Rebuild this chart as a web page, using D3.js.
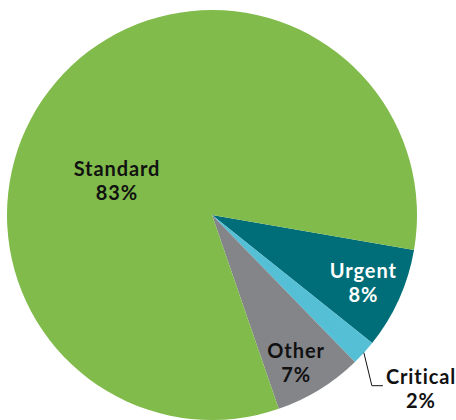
<!DOCTYPE html>
<meta charset="utf-8">
<style>
  body { margin: 0; background: #fff; }
  text { font-family: Lato, "Open Sans", sans-serif; font-weight: 700; letter-spacing: 0.9px; }
</style>
<body>
<svg width="456" height="420"></svg>
<script src="https://d3js.org/d3.v7.min.js"></script>
<script>
  // slice data, clockwise from the start angle
  var categories = ['Urgent', 'Critical', 'Other', 'Standard']
  var shares = [8, 2, 7, 83]
  var labels = ['8%', '2%', '7%', '83%']

  var colors = ['#006e78', '#55bfd6', '#848589', '#80bb4b']
  var textColors = ['#ffffff', '#111111', '#111111', '#111111']

  var cx = 212, cy = 215, r = 205

  var svg = d3.select('svg')
  var g = svg.append('g').attr('transform', 'translate(' + cx + ',' + cy + ')')

  var data = categories.map(function(c, i) {
    return { name: c, value: shares[i], label: labels[i], color: colors[i], text: textColors[i] }
  })

  var pie = d3.pie()
    .sort(null)
    .value(function(d) { return d.value })
    .startAngle(99.8 * Math.PI / 180)
    .endAngle((99.8 + 360) * Math.PI / 180)

  var arc = d3.arc().innerRadius(0).outerRadius(r)
  var labelArc = d3.arc().innerRadius(r * 0.82).outerRadius(r * 0.82)
  var edgeArc = d3.arc().innerRadius(r).outerRadius(r)

  var arcs = pie(data)

  g.selectAll('path.slice')
    .data(arcs)
    .enter().append('path')
    .attr('class', 'slice')
    .attr('d', arc)
    .attr('fill', function(d) { return d.data.color })

  // label nudges (layout only)
  var nudge = {
    Urgent: [-2, 0],
    Other: [-4, 6],
    Standard: [-95, -33],
    Critical: [209, 175]
  }

  function labelPos(d) {
    if (d.data.name === 'Standard' || d.data.name === 'Critical') {
      return nudge[d.data.name]
    }
    var c = labelArc.centroid(d)
    return [c[0] + nudge[d.data.name][0], c[1] + nudge[d.data.name][1]]
  }

  var labelG = g.selectAll('g.lbl')
    .data(arcs)
    .enter().append('g')
    .attr('class', 'lbl')
    .attr('transform', function(d) {
      var p = labelPos(d)
      return 'translate(' + p[0] + ',' + p[1] + ')'
    })

  labelG.append('text')
    .attr('text-anchor', 'middle')
    .attr('y', -6)
    .attr('font-size', 20)
    .attr('fill', function(d) { return d.data.text })
    .text(function(d) { return d.data.name })

  labelG.append('text')
    .attr('text-anchor', 'middle')
    .attr('y', 18)
    .attr('font-size', 20)
    .attr('fill', function(d) { return d.data.text })
    .text(function(d) { return d.data.label })

  // leader line for the small slice
  var crit = arcs[1]
  var p0 = edgeArc.centroid(crit)
  var p1 = [p0[0] + 8, p0[1] + 33]
  var p2 = [p1[0] + 11, p1[1]]
  g.append('path')
    .attr('d', d3.line()([p0, p1, p2]))
    .attr('fill', 'none')
    .attr('stroke', '#111')
    .attr('stroke-width', 1)
</script>
</body>
